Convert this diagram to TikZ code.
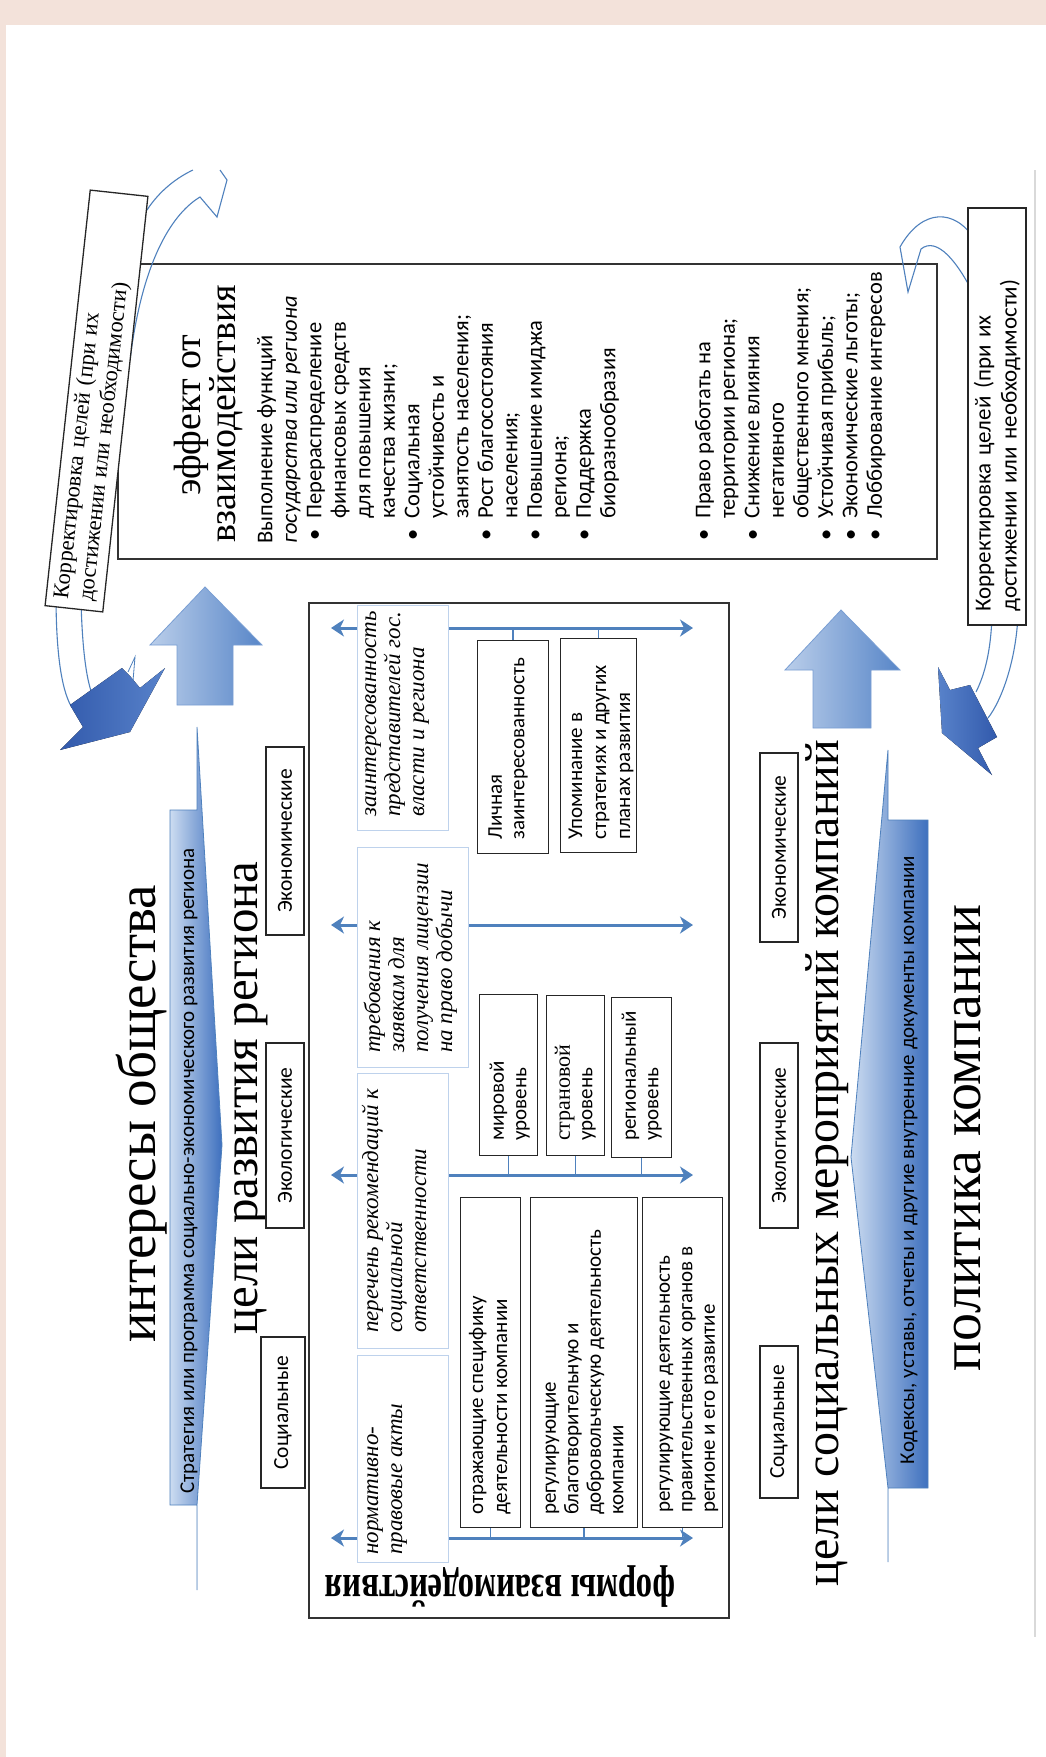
\documentclass[tikz,border=0pt]{standalone}
\usepackage{fontspec}
\usepackage{graphicx}
\setmainfont{Liberation Serif}
\newfontfamily\carl{Carlito}
\usetikzlibrary{arrows.meta}
\definecolor{pinkbg}{RGB}{243,226,218}
\definecolor{lnblue}{RGB}{79,129,189}
\definecolor{hdblue}{RGB}{190,210,236}
\definecolor{arrlight}{RGB}{186,206,234}
\definecolor{arrdark}{RGB}{88,134,200}
\definecolor{headdark}{RGB}{50,90,172}
\definecolor{headmid}{RGB}{88,130,202}
\definecolor{wedgelight}{RGB}{204,220,241}
\definecolor{wedgedark}{RGB}{62,112,190}
\newcommand\vlines[1]{\rotatebox{90}{\begin{tabular}{@{}l@{}}#1\end{tabular}}}
\newcommand\bl{\makebox[25pt][l]{\hspace{3pt}\textbullet}}
\newcommand\ind{\hspace*{25pt}}
\begin{document}
\begin{tikzpicture}[x=1pt,y=-1pt,
  txt/.style={inner sep=0pt, text=black},
  sub/.style={txt, anchor=south west, font=\fontsize{21}{22.5}\selectfont\carl},
  hdr/.style={txt, anchor=south west, font=\fontsize{23}{24}\selectfont\itshape},
  box/.style={draw=black!85, line width=1.3pt, fill=white, inner sep=0pt, anchor=north west},
  hbox/.style={draw=hdblue, line width=1.2pt, fill=white, inner sep=0pt, anchor=north west},
  catbox/.style={draw=black!85, line width=1.3pt, fill=white, inner sep=0pt, font=\fontsize{21.5}{24}\selectfont\carl},
  arr/.style={draw=lnblue, line width=3pt, {Stealth[length=13pt,width=17pt,inset=4pt]}-{Stealth[length=13pt,width=17pt,inset=4pt]}},
  tick/.style={draw=lnblue, line width=1.5pt},
  outl/.style={draw=lnblue, line width=1.1pt},
  title/.style={txt, rotate=90, anchor=base},
  uparr/.style={draw=arrdark!80, line width=0.8pt, left color=arrlight, right color=arrdark},
  wedge/.style={draw=lnblue, line width=0.8pt, left color=wedgelight, right color=wedgedark},
]
\useasboundingbox (0,0) rectangle (1046,1757);
\fill[white] (0,0) rectangle (1046,1757);
\fill[pinkbg] (0,0) rectangle (1046,25);
\fill[pinkbg] (0,0) rectangle (6,1757);
\draw[gray!30, line width=1.5pt] (1035,170) -- (1035,1637);

% effect box
\node[draw=black!80, line width=1.6pt, minimum width=819, minimum height=295, anchor=north west, inner sep=0pt] (eff) at (117,263) {};
\node[title, font=\fontsize{38}{40}\selectfont] (effT1) at (200,415) {эффект от};
\node[title, font=\fontsize{38}{40}\selectfont] (effT2) at (235,414) {взаимодействия};
\node[txt, anchor=south west, font=\fontsize{22.5}{24.5}\selectfont\carl] (eff1) at (255,544) {\vlines{
Выполнение функций\\
\itshape государства или региона\\
\bl Перераспределение\\
\ind финансовых средств\\
\ind для повышения\\
\ind качества жизни;\\
\bl Социальная\\
\ind устойчивость и\\
\ind занятость населения;\\
\bl Рост благосостояния\\
\ind населения;\\
\bl Повышение имиджа\\
\ind региона;\\
\bl Поддержка\\
\ind биоразнообразия}};
\node[txt, anchor=south west, font=\fontsize{22.5}{24.5}\selectfont\carl] (eff2) at (693,544) {\vlines{
\bl Право работать на\\
\ind территории региона;\\
\bl Снижение влияния\\
\ind негативного\\
\ind общественного мнения;\\
\bl Устойчивая прибыль;\\
\bl Экономические льготы;\\
\bl Лоббирование интересов}};

% outline curved arrows
\draw[outl] (147,210) .. controls (160,190) and (178,177) .. (193,170);
\draw[outl] (220,170) -- (227,180) -- (217,217) -- (200,197) .. controls (175,212) and (143,255) .. (130,360);
\draw[outl] (975,240) .. controls (955,208) and (922,208) .. (900,247) -- (908,292) -- (921,249) .. controls (937,236) and (958,262) .. (975,297);
\draw[outl] (56,595) .. controls (56,650) and (61,688) .. (71,706);
\draw[outl] (81,600) .. controls (82,640) and (85,672) .. (91,691);
\draw[outl] (992,615) .. controls (991,650) and (985,674) .. (976,692);
\draw[outl] (1018,615) .. controls (1016,660) and (1002,700) .. (988,718);

% dark arrow heads
\fill[left color=headdark, right color=headmid] (70,705) -- (122,668) -- (130,676) -- (140,688) -- (165,668) -- (130,732) -- (60,750) -- (83,727) -- cycle;
\draw[outl, line width=0.8pt] (128,672) -- (135,657) -- (133,681);
\fill[left color=headmid, right color=headdark] (938,667) -- (950,690) -- (970,685) -- (997,737) -- (978,748) -- (992,775) -- (942,733) -- cycle;

% correction boxes
\node[draw=black!85, line width=1.3pt, fill=white, rotate=83.8, minimum width=418, minimum height=58, text width=400, align=left, inner sep=4pt, font=\fontsize{22.5}{25}\selectfont] (corrL) at (96.5,401) {Корректировка целей (при их\\достижении или необходимости)};
\node[draw=black!85, line width=1.3pt, fill=white, rotate=90, minimum width=417, minimum height=58, text width=390, align=left, inner sep=4pt, font=\fontsize{23}{26}\selectfont\carl] (corrR) at (997,416.5) {Корректировка целей (при их\\достижении или необходимости)};

% up arrows
\draw[uparr] (205,587) -- (262,645) -- (233,645) -- (233,705) -- (177,705) -- (177,645) -- (150,645) -- cycle;
\draw[uparr] (841,610) -- (900,670) -- (871,670) -- (871,728) -- (813,728) -- (813,670) -- (785,670) -- cycle;

% wedges
\draw[wedge] (197,727) -- (222,1145) -- (197,1505) -- (197,1590) -- (197,1505) -- (170,1505) -- (170,810) -- (197,810) -- cycle;
\draw[wedge] (888,750) -- (851,1157) -- (888,1488) -- (888,1562) -- (888,1488) -- (928,1488) -- (928,820) -- (888,820) -- cycle;
\node[title, font=\fontsize{21}{24}\selectfont\carl] (strat) at (194,1171) {Стратегия или программа социально-экономического развития региона};
\node[title, font=\fontsize{21}{24}\selectfont\carl] (kodex) at (914,1160) {Кодексы, уставы, отчеты и другие внутренние документы компании};

% titles
\node[title, font=\fontsize{55}{60}\selectfont] (tInt) at (155,1114) {интересы общества};
\node[title, font=\fontsize{49}{55}\selectfont] (tReg) at (257,1098) {цели развития региона};
\node[title, font=\fontsize{48}{55}\selectfont] (tSoc) at (838,1163) {цели социальных мероприятий компаний};
\node[title, font=\fontsize{56}{60}\selectfont] (tPol) at (980,1138) {политика компании};

% category boxes
\node[catbox, minimum width=44, minimum height=151] (lSoc) at (283,1412.5) {\rotatebox{90}{Социальные}};
\node[catbox, minimum width=38, minimum height=185] (lEco) at (285,1135.5) {\rotatebox{90}{Экологические}};
\node[catbox, minimum width=38, minimum height=188] (lEcn) at (285,841) {\rotatebox{90}{Экономические}};
\node[catbox, minimum width=38, minimum height=152] (rSoc) at (779,1422) {\rotatebox{90}{Социальные}};
\node[catbox, minimum width=38, minimum height=185] (rEco) at (779,1135.5) {\rotatebox{90}{Экологические}};
\node[catbox, minimum width=38, minimum height=189] (rEcn) at (779,847.5) {\rotatebox{90}{Экономические}};

% frame
\node[draw=black!80, line width=1.8pt, minimum width=420, minimum height=1015, anchor=north west, inner sep=0pt] (frame) at (308,602) {};
\coordinate (a1l) at (331,628);  \coordinate (a1r) at (693,628);
\coordinate (a2l) at (331,925);  \coordinate (a2r) at (693,925);
\coordinate (a3l) at (331,1175); \coordinate (a3r) at (693,1175);
\coordinate (a4l) at (331,1538); \coordinate (a4r) at (693,1538);
\draw[arr] (a1l) -- (a1r);
\draw[arr] (a2l) -- (a2r);
\draw[arr] (a3l) -- (a3r);
\draw[arr] (a4l) -- (a4r);

\node[hbox, minimum width=91, minimum height=225] (h1) at (357,605) {};
\node[hbox, minimum width=111, minimum height=220] (h2) at (357,847) {};
\node[hbox, minimum width=91, minimum height=275] (h3) at (357,1073) {};
\node[hbox, minimum width=91, minimum height=207] (h4) at (357,1355) {};
\node[hdr] (h1t) at (359,817) {\vlines{заинтересованность\\представителей гос.\\власти и региона}};
\node[hdr] (h2t) at (363,1053) {\vlines{требования к\\заявкам для\\получения лицензии\\на право добычи}};
\node[hdr] (h3t) at (361,1333) {\vlines{перечень рекомендаций к\\социальной\\ответственности}};
\node[hdr] (h4t) at (361,1555) {\vlines{нормативно-\\правовые акты}};

\node[box, minimum width=71, minimum height=213] (bLich) at (477,640) {};
\node[box, minimum width=76, minimum height=214] (bUpom) at (560,638) {};
\node[box, minimum width=58, minimum height=161] (bMir) at (479,994) {};
\node[box, minimum width=58, minimum height=160] (bStr) at (546,995) {};
\node[box, minimum width=60, minimum height=160] (bReg) at (611,997) {};
\node[box, minimum width=60, minimum height=330] (bOtr) at (460,1197) {};
\node[box, minimum width=107, minimum height=330] (bBlag) at (530,1197) {};
\node[box, minimum width=80, minimum height=330] (bGov) at (642,1197) {};

\draw[tick] (bLich.north) -- (bLich.north |- a1l);
\draw[tick] (bUpom.north) -- (bUpom.north |- a1l);
\draw[tick] (bMir.south) -- (bMir.south |- a3l);
\draw[tick] (bStr.south) -- (bStr.south |- a3l);
\draw[tick] (bReg.south) -- (bReg.south |- a3l);
\draw[tick] (bOtr.south) -- (bOtr.south |- a4l);
\draw[tick] (bBlag.south) -- (bBlag.south |- a4l);
\draw[tick] (bGov.south) -- (bGov.south |- a4l);

\node[sub] (tLich) at (486,840) {\vlines{Личная\\заинтересованность}};
\node[sub, font=\fontsize{21}{24}\selectfont\carl] (tUpom) at (565,840) {\vlines{Упоминание в\\стратегиях и других\\планах развития}};
\node[sub] (tMir) at (488,1141) {\vlines{мировой\\уровень}};
\node[sub] (tStr) at (554,1141) {\vlines{{\rmfamily\fontsize{22}{22.5}\selectfont страновой}\\уровень}};
\node[sub] (tReg2) at (620,1141) {\vlines{региональный\\уровень}};
\node[sub, font=\fontsize{21}{24}\selectfont\carl] (tOtr) at (466,1515) {\vlines{отражающие специфику\\деятельности компании}};
\node[sub] (tBlag) at (540,1515) {\vlines{регулирующие\\благотворительную и\\добровольческую деятельность\\компании}};
\node[sub] (tGov) at (654,1513) {\vlines{регулирующие деятельность\\правительственных органов в\\регионе и его развитие}};

\node[txt, rotate=180, anchor=base, font=\fontsize{46}{50}\selectfont\bfseries] (forms) at (500,1575) {\scalebox{0.71}[1]{формы взаимодействия}};
\end{tikzpicture}
\end{document}
